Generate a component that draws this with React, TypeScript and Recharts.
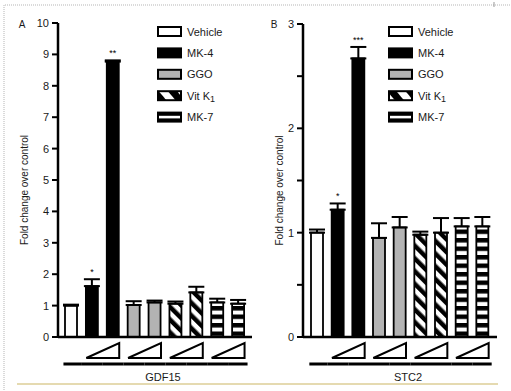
import { Bar, BarChart, Cell, ErrorBar, LabelList, XAxis, YAxis } from "recharts";

// treatments, low -> high dose within each pair
const groups = ["Vehicle", "MK-4", "MK-4", "GGO", "GGO", "Vit K1", "Vit K1", "MK-7", "MK-7"];
const doses = ["0", "low", "high", "low", "high", "low", "high", "low", "high"];

const gdf15Values = [1.0, 1.62, 8.77, 1.02, 1.1, 1.06, 1.42, 1.1, 1.06];
const gdf15Errors = [0.03, 0.22, 0.04, 0.12, 0.06, 0.07, 0.18, 0.12, 0.12];
const gdf15Sig = ["", "*", "**", "", "", "", "", "", ""];
const gdf15Ticks = [0, 1, 2, 3, 4, 5, 6, 7, 8, 9, 10];

const stc2Values = [1.0, 1.22, 2.67, 0.95, 1.05, 0.98, 1.0, 1.06, 1.06];
const stc2Errors = [0.03, 0.06, 0.11, 0.14, 0.1, 0.03, 0.14, 0.08, 0.09];
const stc2Sig = ["", "*", "***", "", "", "", "", "", ""];
const stc2Ticks = [0, 0.5, 1, 1.5, 2, 2.5, 3];

const legendItems = ["Vehicle", "MK-4", "GGO", "Vit K1", "MK-7"];

const FONT = "'Liberation Sans', Arial, Helvetica, sans-serif";
const INK = "#1a1a1a";
const BAR_SIZE = 12;

function fillFor(group: string, prefix: string) {
  if (group === "Vehicle") return "#ffffff";
  if (group === "MK-4") return "#000000";
  if (group === "GGO") return "#b3b3b3";
  if (group === "Vit K1") return `url(#${prefix}-hatch)`;
  return `url(#${prefix}-stripe)`;
}

function buildRows(values: number[], errors: number[], sig: string[]) {
  return groups.map((g, i) => ({
    key: `${g}-${doses[i]}`,
    group: g,
    value: values[i],
    err: [0, errors[i]],
    sig: sig[i],
  }));
}

function patternDefs(prefix: string) {
  return (
    <defs>
      <pattern
        id={`${prefix}-hatch`}
        patternUnits="userSpaceOnUse"
        width={9}
        height={9}
        patternTransform="rotate(-45)"
      >
        <rect width={9} height={9} fill="#fff" />
        <rect width={4.5} height={9} fill="#000" />
      </pattern>
      <pattern id={`${prefix}-stripe`} patternUnits="userSpaceOnUse" width={8} height={8.5}>
        <rect width={8} height={8.5} fill="#fff" />
        <rect width={8} height={4.5} fill="#000" />
      </pattern>
    </defs>
  );
}

function WedgeTick(props: any) {
  const { x, y, index, payload, fallbackBand, count } = props;
  const band = payload && payload.offset > 0 && payload.offset < 40 ? payload.offset * 2 : fallbackBand;
  const lineY = y + 27;
  const x1 = index === 0 ? x - BAR_SIZE / 2 - 2 : x - band / 2;
  const x2 = index === count - 1 ? x + BAR_SIZE / 2 + 3 : x + band / 2;
  const isFirstOfPair = index % 2 === 1;
  const left = x - BAR_SIZE / 2;
  const right = x + band + BAR_SIZE / 2;
  return (
    <g>
      <line x1={x1} x2={x2} y1={lineY} y2={lineY} stroke="#000" strokeWidth={3} />
      {isFirstOfPair && (
        <polygon
          points={`${left},${y + 21} ${right},${y + 21} ${right},${y + 6}`}
          fill="none"
          stroke="#000"
          strokeWidth={2}
        />
      )}
    </g>
  );
}

interface PanelProps {
  prefix: string;
  gene: string;
  rows: ReturnType<typeof buildRows>;
  ticks: number[];
  errors: number[];
  left: number;
  width: number;
  marginLeft: number;
  marginTop: number;
  padding: number;
  labelGap: number;
}

function Panel({ prefix, gene, rows, ticks, errors, left, width, marginLeft, marginTop, padding, labelGap }: PanelProps) {
  const plotWidth = width - marginLeft - 30 - 8;
  const fallbackBand = (plotWidth - padding * 2) / rows.length;
  return (
    <div style={{ position: "absolute", left, top: 0 }}>
      <BarChart
        width={width}
        height={391}
        data={rows}
        margin={{ top: marginTop, right: 8, bottom: 8, left: marginLeft }}
        barSize={BAR_SIZE}
      >
        {patternDefs(prefix)}
        <XAxis
          dataKey="key"
          height={46}
          interval={0}
          padding={{ left: padding, right: padding }}
          axisLine={{ stroke: "#000", strokeWidth: 2.5 }}
          tickLine={false}
          tickSize={0}
          tickMargin={0}
          tick={(p: any) => <WedgeTick {...p} fallbackBand={fallbackBand} count={rows.length} />}
          label={{
            content: (p: any) => {
              const vb = p.viewBox;
              return (
                <text
                  x={vb.x + vb.width / 2 + 8}
                  y={vb.y + 44}
                  textAnchor="middle"
                  fontSize={11}
                  fill={INK}
                  fontFamily={FONT}
                >
                  {gene}
                </text>
              );
            },
          }}
        />
        <YAxis
          type="number"
          width={30}
          domain={[ticks[0], ticks[ticks.length - 1]]}
          ticks={ticks}
          interval={0}
          tickFormatter={(v: number) => (Number.isInteger(v) ? String(v) : "")}
          axisLine={{ stroke: "#000", strokeWidth: 2.5 }}
          tickLine={{ stroke: "#000", strokeWidth: 2 }}
          tickSize={6}
          tickMargin={3}
          tick={{ fontSize: 11, fill: INK, fontFamily: FONT }}
          label={{
            content: (p: any) => {
              const vb = p.viewBox;
              const cx = vb.x + vb.width - labelGap;
              const cy = vb.y + vb.height / 2 + 10;
              return (
                <text
                  x={cx}
                  y={cy}
                  transform={`rotate(-90, ${cx}, ${cy})`}
                  textAnchor="middle"
                  dominantBaseline="central"
                  fontSize={10}
                  fill={INK}
                  fontFamily={FONT}
                >
                  Fold change over control
                </text>
              );
            },
          }}
        />
        <Bar dataKey="value" stroke="#000" strokeWidth={1.8} isAnimationActive={false}>
          {rows.map((r) => (
            <Cell key={r.key} fill={fillFor(r.group, prefix)} />
          ))}
          <ErrorBar dataKey="err" direction="y" width={8} stroke="#000" strokeWidth={2} />
          <LabelList
            dataKey="sig"
            content={(p: any) => {
              const { x, y, width: w, height: h, value, index } = p;
              if (!value) return null;
              const perUnit = h / rows[index].value;
              const top = y - errors[index] * perUnit;
              return (
                <text
                  x={x + w / 2}
                  y={top - 4}
                  textAnchor="middle"
                  fontSize={9}
                  fontFamily={FONT}
                  style={{ fill: "#000" }}
                  stroke="none"
                >
                  {value}
                </text>
              );
            }}
          />
        </Bar>
      </BarChart>
    </div>
  );
}

function LegendBlock({ x, prefix }: { x: number; prefix: string }) {
  return (
    <g>
      <defs>
        <pattern
          id={`${prefix}-lhatch`}
          patternUnits="userSpaceOnUse"
          width={14}
          height={14}
          patternTransform="rotate(-40)"
        >
          <rect width={14} height={14} fill="#fff" />
          <rect width={7} height={14} fill="#000" />
        </pattern>
      </defs>
      {legendItems.map((name, i) => {
        const cy = 31.5 + i * 21.4;
        let fill = fillFor(name, prefix);
        if (name === "Vit K1") fill = `url(#${prefix}-lhatch)`;
        return (
          <g key={name}>
            {name === "MK-7" ? (
              <g>
                <rect x={x} y={cy - 4.5} width={23} height={9} fill="#000" stroke="#000" strokeWidth={2} />
                <rect x={x + 1} y={cy - 1.3} width={21} height={2.6} fill="#fff" />
              </g>
            ) : (
              <rect x={x} y={cy - 4.5} width={23} height={9} fill={fill} stroke="#000" strokeWidth={2} />
            )}
            <text x={x + 29} y={cy} dominantBaseline="central" fontSize={11} fill={INK} fontFamily={FONT}>
              {name === "Vit K1" ? (
                <>
                  <tspan>Vit K</tspan>
                  <tspan dy={3} fontSize={9}>
                    1
                  </tspan>
                </>
              ) : (
                name
              )}
            </text>
          </g>
        );
      })}
    </g>
  );
}

export default function App() {
  const gdf15Rows = buildRows(gdf15Values, gdf15Errors, gdf15Sig);
  const stc2Rows = buildRows(stc2Values, stc2Errors, stc2Sig);
  return (
    <div
      style={{
        position: "absolute",
        left: 0,
        top: 0,
        width: 511,
        height: 391,
        background: "#fff",
        overflow: "hidden",
        fontFamily: FONT,
      }}
    >
      <Panel
        prefix="a"
        gene="GDF15"
        rows={gdf15Rows}
        ticks={gdf15Ticks}
        errors={gdf15Errors}
        left={0}
        width={260}
        marginLeft={28}
        marginTop={23}
        padding={3}
        labelGap={34}
      />
      <Panel
        prefix="b"
        gene="STC2"
        rows={stc2Rows}
        ticks={stc2Ticks}
        errors={stc2Errors}
        left={255}
        width={250}
        marginLeft={18}
        marginTop={24}
        padding={4}
        labelGap={24}
      />
      <svg
        width={511}
        height={391}
        style={{ position: "absolute", left: 0, top: 0, pointerEvents: "none" }}
      >
        <line x1={5} x2={511} y1={5} y2={5} stroke="#b5b5b5" strokeWidth={1} strokeDasharray="1 1" />
        <line x1={4} x2={4} y1={5} y2={391} stroke="#b5b5b5" strokeWidth={1} strokeDasharray="1 1" />
        <line x1={494} x2={494} y1={2} y2={7} stroke="#999" strokeWidth={1} />
        <line x1={17} x2={498} y1={384} y2={384} stroke="#cbb563" strokeWidth={1} />
        <text x={22} y={24} textAnchor="middle" dominantBaseline="central" fontSize={10} fill={INK} fontFamily={FONT}>
          A
        </text>
        <text x={274} y={24} textAnchor="middle" dominantBaseline="central" fontSize={10} fill={INK} fontFamily={FONT}>
          B
        </text>
        <LegendBlock x={158} prefix="la" />
        <LegendBlock x={389} prefix="lb" />
      </svg>
    </div>
  );
}
